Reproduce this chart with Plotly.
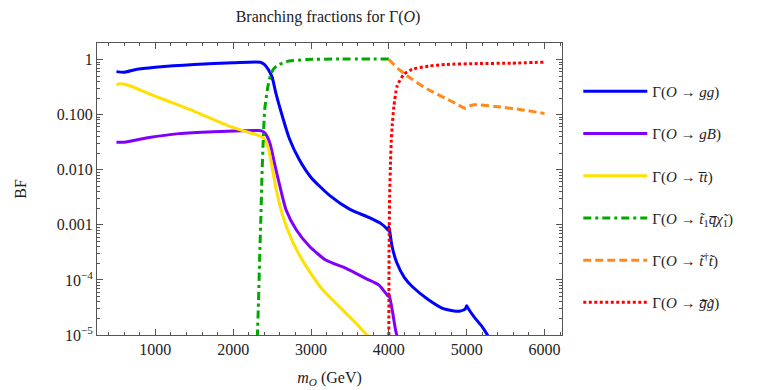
import plotly.graph_objects as go

# ---------------- data ----------------
gg_x = [500, 600, 750, 1000, 1500, 2000, 2350, 2400, 2450, 2500, 2550, 2640, 2720, 2850, 3000,
        3250, 3500, 3750, 3900, 3980, 3992, 4000, 4015, 4040, 4100, 4200, 4300, 4500, 4700,
        4900, 4980, 5000, 5020, 5100, 5200, 5290]
gg_y = [0.603, 0.589, 0.661, 0.724, 0.813, 0.871, 0.891, 0.813, 0.661, 0.479, 0.240, 0.0851,
        0.0372, 0.0151, 0.00724, 0.00331, 0.00191, 0.00135, 0.00105, 0.000832, 0.000794,
        0.000933, 0.000708, 0.000417, 0.000209, 0.000110, 7.59e-5, 4.47e-5, 3.02e-5,
        2.69e-5, 2.95e-5, 3.39e-5, 3.02e-5, 2.09e-5, 1.41e-5, 8.9e-6]

gB_x = [500, 600, 900, 1300, 1750, 2330, 2370, 2405, 2470, 2530, 2600, 2680, 2810, 2980, 3190,
        3450, 3700, 3870, 3960, 3995, 4003, 4050, 4085, 4110]
gB_y = [0.0316, 0.0316, 0.0380, 0.0452, 0.0490, 0.0513, 0.0501, 0.0468, 0.0309, 0.0132,
        0.00501, 0.00186, 0.000813, 0.000407, 0.000229, 0.000162, 0.000107, 8.13e-5,
        5.75e-5, 5.01e-5, 5.62e-5, 2.51e-5, 1.26e-5, 8.9e-6]

tt_x = [500, 550, 680, 900, 1100, 1500, 1950, 2120, 2350, 2390, 2450, 2490, 2550, 2640, 2770,
        2940, 3150, 3360, 3580, 3740]
tt_y = [0.347, 0.363, 0.331, 0.245, 0.190, 0.115, 0.0617, 0.0513, 0.0407, 0.0372, 0.0251,
        0.0132, 0.00457, 0.00141, 0.000468, 0.000174, 6.61e-5, 3.31e-5, 1.62e-5, 9.3e-6]

stq_x = [2310, 2325, 2340, 2355, 2370, 2385, 2405, 2447, 2490, 2554, 2680, 2940, 3360, 4000]
stq_y = [8.9e-6, 3.98e-5, 2.51e-4, 1.26e-3, 7.94e-3, 0.0316, 0.123, 0.331, 0.575, 0.759,
         0.912, 1.0, 1.02, 1.02]

stst_x = [4000, 4050, 4130, 4300, 4500, 4720, 4850, 4990, 5050, 5100, 5360, 5700, 6000]
stst_y = [1.0, 0.851, 0.661, 0.437, 0.288, 0.200, 0.162, 0.129, 0.145, 0.151, 0.141, 0.123,
          0.105]

glgl_x = [4000, 4003, 4010, 4022, 4030, 4043, 4065, 4107, 4193, 4300, 4510, 4725, 5150, 5576,
          6000]
glgl_y = [7.9e-6, 3.16e-4, 3.16e-3, 0.0141, 0.0309, 0.0617, 0.141, 0.331, 0.537, 0.661, 0.759,
          0.813, 0.845, 0.859, 0.898]

names = ["Γ(<i>O</i> → <i>gg</i>)",
         "Γ(<i>O</i> → <i>gB</i>)",
         "Γ(<i>O</i> → <i>t\u0305t</i>)",
         "Γ(<i>O</i> → <i>t\u0303</i><sub>1</sub><i>q\u0305χ\u0303</i><sub>1</sub>)",
         "Γ(<i>O</i> → <i>t\u0303</i><sup>†</sup><i>t\u0303</i>)",
         "Γ(<i>O</i> → <i>g\u0303\u0305g\u0303</i>)"]

y_tickvals = [1, 0.1, 0.01, 0.001, 1e-4, 1e-5]
y_ticktext = ["1", "0.100", "0.010", "0.001", "10<sup>−4</sup>", "10<sup>−5</sup>"]
x_tickvals = [1000, 2000, 3000, 4000, 5000, 6000]

series = [
    (gg_x, gg_y, "#0000FF", "solid"),
    (gB_x, gB_y, "#8000FF", "solid"),
    (tt_x, tt_y, "#FFE000", "solid"),
    (stq_x, stq_y, "#00A800", "8px,4px,3px,4px"),
    (stst_x, stst_y, "#FF8A1C", "8px,4px"),
    (glgl_x, glgl_y, "#FF0000", "3px,2.5px"),
]

FONT = "Liberation Serif"
fig = go.Figure()
for i, (xs, ys, col, dash) in enumerate(series):
    fig.add_trace(go.Scatter(x=xs, y=ys, mode="lines", name=names[i],
                             legendgroup=f"g{i}", legendrank=i + 1,
                             line=dict(color=col, width=3, dash=dash, shape="spline",
                                       smoothing=0.6)))

minor_y = [m * 10.0 ** e for e in range(-5, 1) for m in range(2, 10)] + [2.0]

axis_common = dict(showline=True, linecolor="#555", linewidth=1, mirror="allticks",
                   ticks="inside", tickcolor="#555", showgrid=False, zeroline=False,
                   tickfont=dict(family=FONT, size=16, color="#222"))

fig.update_layout(
    width=768, height=390,
    margin=dict(l=86, r=214, t=35, b=63),
    paper_bgcolor="white", plot_bgcolor="white",
    font=dict(family=FONT, size=15, color="#222"),
    title=dict(text="Branching fractions for Γ(<i>O</i>)", x=(86 + 554) / 2 / 768,
               xanchor="center", y=0.978, yanchor="middle",
               font=dict(family=FONT, size=16, color="#222")),
    xaxis=dict(range=[250, 6225], tickvals=x_tickvals, ticklen=6,
               minor=dict(ticks="inside", ticklen=3, dtick=200, tick0=0, tickcolor="#555"),
               title=dict(text="<i>m</i><sub><i>O</i></sub> (GeV)",
                          font=dict(family=FONT, size=16, color="#222"), standoff=14),
               **axis_common),
    yaxis=dict(type="log", range=[-5, 0.30], tickvals=y_tickvals, ticktext=y_ticktext,
               ticklen=6,
               minor=dict(ticks="inside", ticklen=3, tickmode="array", tickvals=minor_y,
                          tickcolor="#555"),
               title=dict(text="BF", font=dict(family=FONT, size=16, color="#222"),
                          standoff=26),
               **axis_common),
    legend=dict(x=1.035, xanchor="left", y=0.89, yanchor="top", tracegroupgap=19.7,
                itemwidth=64, bgcolor="rgba(0,0,0,0)",
                font=dict(family=FONT, size=15, color="#222")),
    showlegend=True,
)

fig.write_html("out.html")
